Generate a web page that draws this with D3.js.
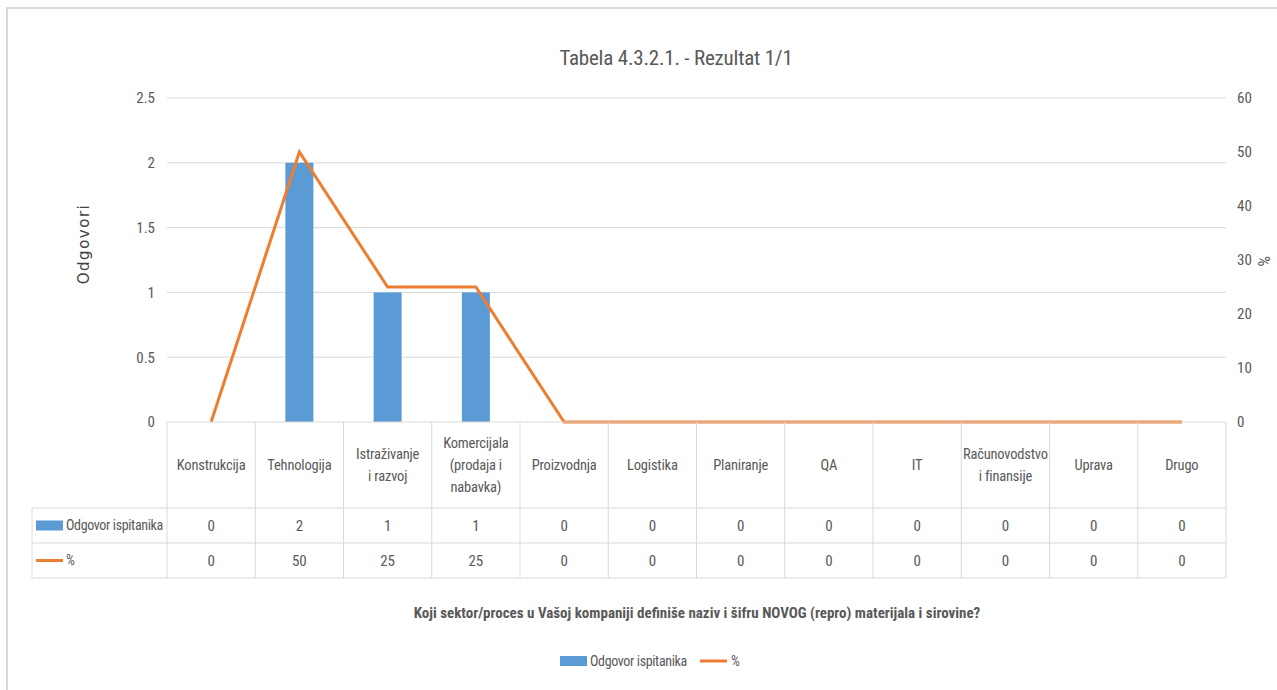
<!DOCTYPE html>
<html>
<head>
<meta charset="utf-8">
<script src="https://cdn.jsdelivr.net/npm/d3@7"></script>
<style>
  html, body { margin: 0; padding: 0; background: #fff; }
  svg { display: block; }
  .narrow { font-family: "Liberation Sans Narrow", "Arial Narrow", "Roboto Condensed", sans-serif; }
</style>
</head>
<body>
<svg id="chart" width="1277" height="690"></svg>
<script>
// Sectors (line breaks mark wrapped header labels)
const categories = [
  "Konstrukcija", "Tehnologija", "Istraživanje\ni razvoj", "Komercijala\n(prodaja i\nnabavka)",
  "Proizvodnja", "Logistika", "Planiranje", "QA", "IT", "Računovodstvo\ni finansije", "Uprava", "Drugo"
];
const answers = [0, 2, 1, 1, 0, 0, 0, 0, 0, 0, 0, 0];
const percents = [0, 50, 25, 25, 0, 0, 0, 0, 0, 0, 0, 0];
const leftTicks = [0, 0.5, 1, 1.5, 2, 2.5];
const rightTicks = [0, 10, 20, 30, 40, 50, 60];
const seriesNames = ["Odgovor ispitanika", "%"];
const chartTitle = "Tabela 4.3.2.1. - Rezultat 1/1";
const xTitle = "Koji sektor/proces u Vašoj kompaniji definiše naziv i šifru NOVOG (repro) materijala i sirovine?";
const yTitle = "Odgovori";
const y2Title = "%";

const BLUE = "#5B9BD5", ORANGE = "#ED7D31", TXT = "#595959", GRID = "#d9d9d9";

const svg = d3.select("#chart");
const plot = { left: 167, right: 1226, top: 98, bottom: 422 };

// chart frame
svg.append("rect").attr("x", 7).attr("y", 8).attr("width", 1300).attr("height", 700)
  .attr("fill", "#fff").attr("stroke", GRID).attr("stroke-width", 2);

const x = d3.scaleBand().domain(d3.range(categories.length)).range([plot.left, plot.right]).padding(0);
const y = d3.scaleLinear().domain([0, 2.5]).range([plot.bottom, plot.top]);
const y2 = d3.scaleLinear().domain([0, 60]).range([plot.bottom, plot.top]);

// gridlines
svg.append("g").selectAll("line").data(leftTicks.filter(d => d > 0)).join("line")
  .attr("x1", plot.left).attr("x2", plot.right)
  .attr("y1", d => y(d)).attr("y2", d => y(d))
  .attr("stroke", GRID).attr("stroke-width", 1);

// left axis
const yAxis = svg.append("g").attr("class", "narrow")
  .attr("transform", `translate(${plot.left - 12},0)`)
  .call(d3.axisLeft(y).tickValues(leftTicks).tickSize(0).tickPadding(0).tickFormat(d => String(d)));
yAxis.select(".domain").remove();
yAxis.selectAll("text").attr("fill", TXT).style("font-size", "15px");

// right axis
const y2Axis = svg.append("g").attr("class", "narrow")
  .attr("transform", `translate(${plot.right + 11},0)`)
  .call(d3.axisRight(y2).tickValues(rightTicks).tickSize(0).tickPadding(0).tickFormat(d => String(d)));
y2Axis.select(".domain").remove();
y2Axis.selectAll("text").attr("fill", TXT).style("font-size", "15px");

// bars
const barW = 28;
svg.append("g").selectAll("rect").data(answers).join("rect")
  .attr("x", (d, i) => x(i) + x.bandwidth() / 2 - barW / 2)
  .attr("width", barW)
  .attr("y", d => y(d))
  .attr("height", d => y(0) - y(d))
  .attr("fill", BLUE);

// percentage line
const line = d3.line().x((d, i) => x(i) + x.bandwidth() / 2).y(d => y2(d));
svg.append("path").datum(percents)
  .attr("d", line).attr("fill", "none")
  .attr("stroke", ORANGE).attr("stroke-width", 3).attr("stroke-linejoin", "miter");

// data table under the plot
const rowTop = plot.bottom, headBottom = 508, row1Bottom = 543, row2Bottom = 578, tableLeft = 32;
const tbl = svg.append("g").attr("class", "narrow");
const tl = (x1, y1, x2, y2_) => tbl.append("line").attr("x1", x1).attr("y1", y1).attr("x2", x2).attr("y2", y2_)
  .attr("stroke", GRID).attr("stroke-width", 1);
tl(plot.left, rowTop, plot.right, rowTop);
[headBottom, row1Bottom, row2Bottom].forEach(yy => tl(tableLeft, yy, plot.right, yy));
tl(tableLeft, headBottom, tableLeft, row2Bottom);
d3.range(categories.length + 1).forEach(i => {
  const xx = i < categories.length ? x(i) : plot.right;
  tl(xx, rowTop, xx, row2Bottom);
});

// header labels
categories.forEach((c, i) => {
  const lines = c.split("\n");
  const lh = 22;
  const cy = (rowTop + headBottom) / 2;
  const t = tbl.append("text").attr("text-anchor", "middle").attr("fill", TXT)
    .style("font-size", "14.5px").style("letter-spacing", "-0.2px")
    .attr("x", x(i) + x.bandwidth() / 2);
  lines.forEach((ln, k) => {
    t.append("tspan").attr("x", x(i) + x.bandwidth() / 2)
      .attr("y", cy + (k - (lines.length - 1) / 2) * lh).attr("dy", "0.35em").text(ln);
  });
});

// value rows
[answers, percents].forEach((vals, r) => {
  const cy = r === 0 ? (headBottom + row1Bottom) / 2 : (row1Bottom + row2Bottom) / 2;
  tbl.append("g").selectAll("text").data(vals).join("text")
    .attr("x", (d, i) => x(i) + x.bandwidth() / 2).attr("y", cy).attr("dy", "0.35em")
    .attr("text-anchor", "middle").attr("fill", TXT).style("font-size", "15px")
    .text(d => d);
  // series keys
  if (r === 0) {
    tbl.append("rect").attr("x", 36).attr("y", cy - 5).attr("width", 27).attr("height", 10).attr("fill", BLUE);
  } else {
    tbl.append("line").attr("x1", 36).attr("x2", 63).attr("y1", cy).attr("y2", cy)
      .attr("stroke", ORANGE).attr("stroke-width", 3);
  }
  tbl.append("text").attr("x", 66).attr("y", cy).attr("dy", "0.35em")
    .attr("fill", TXT).style("font-size", "14px").style("letter-spacing", "-0.35px").text(seriesNames[r]);
});

// titles
svg.append("text").attr("class", "narrow").attr("x", 676).attr("y", 58).attr("dy", "0.35em")
  .attr("text-anchor", "middle").attr("fill", TXT).style("font-size", "21px").style("letter-spacing", "-0.2px")
  .text(chartTitle);

svg.append("text").attr("class", "narrow").attr("x", 697).attr("y", 613).attr("dy", "0.35em")
  .attr("text-anchor", "middle").attr("fill", TXT).style("font-size", "15px").style("font-weight", "bold")
  .text(xTitle);

svg.append("text").attr("transform", "translate(84,244) rotate(-90)").attr("dy", "0.35em")
  .attr("text-anchor", "middle").attr("fill", "#404040")
  .style("font-family", "DejaVu Sans, sans-serif").style("font-size", "15px").style("letter-spacing", "1.5px")
  .text(yTitle);

svg.append("text").attr("class", "narrow").attr("transform", "translate(1264,261) rotate(90)").attr("dy", "0.35em")
  .attr("text-anchor", "middle").attr("fill", TXT).style("font-size", "17px").text(y2Title);

// legend
const lg = svg.append("g").attr("class", "narrow");
lg.append("rect").attr("x", 560).attr("y", 656).attr("width", 27).attr("height", 10).attr("fill", BLUE);
lg.append("text").attr("x", 590).attr("y", 661).attr("dy", "0.35em").attr("fill", TXT)
  .style("font-size", "14px").style("letter-spacing", "-0.35px").text(seriesNames[0]);
lg.append("line").attr("x1", 700).attr("x2", 727).attr("y1", 661).attr("y2", 661).attr("stroke", ORANGE).attr("stroke-width", 3);
lg.append("text").attr("x", 731).attr("y", 661).attr("dy", "0.35em").attr("fill", TXT).style("font-size", "14px").text(seriesNames[1]);
</script>
</body>
</html>
